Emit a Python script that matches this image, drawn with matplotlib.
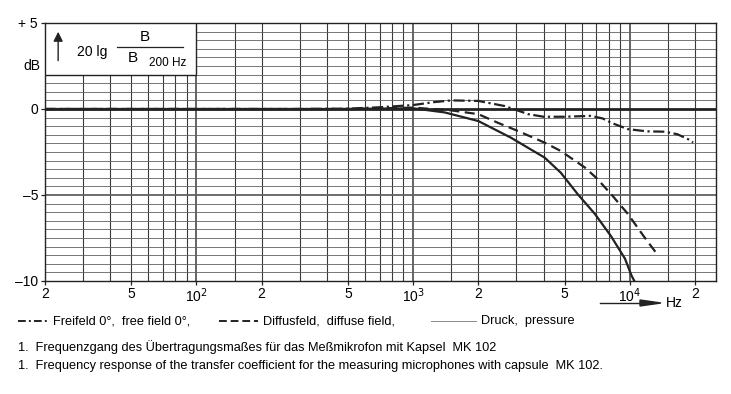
import numpy as np
import matplotlib.pyplot as plt
from matplotlib.lines import Line2D
from matplotlib.patches import Rectangle

plt.rcParams['font.family'] = ['Liberation Sans', 'DejaVu Sans']

# --- data (frequency in Hz, level in dB) ---
free_f = [20, 100, 300, 500, 700, 1000, 1250, 1500, 2000, 2650, 3400, 4000, 5000, 6600, 7500, 8200, 9800, 12000, 14600, 16600, 18900, 19600]
free_db = [0, 0, 0, 0.02, 0.1, 0.23, 0.4, 0.5, 0.47, 0.17, -0.3, -0.45, -0.45, -0.4, -0.55, -0.8, -1.17, -1.3, -1.32, -1.47, -1.8, -1.95]

diff_f = [20, 500, 800, 1000, 1500, 2000, 2460, 3050, 4050, 4800, 6200, 7000, 8200, 9800, 11600, 13300]
diff_db = [0, 0, 0.05, 0.08, -0.08, -0.3, -0.8, -1.28, -1.96, -2.44, -3.4, -4.0, -4.95, -6.1, -7.4, -8.4]

press_f = [20, 500, 800, 1000, 1400, 2000, 2830, 4050, 4800, 5750, 6900, 8200, 9500, 10200, 10500]
press_db = [0, 0, 0.03, 0.04, -0.2, -0.7, -1.67, -2.83, -3.7, -4.95, -6.1, -7.4, -8.7, -9.7, -10.0]

xtick_pos = [20, 50, 100, 200, 500, 1000, 2000, 5000, 10000, 20000]
xtick_lab = ['2', '5', '10$^2$', '2', '5', '10$^3$', '2', '5', '10$^4$', '2']

legend_labels = ['Freifeld 0°,  free field 0°,', 'Diffusfeld,  diffuse field,', 'Druck,  pressure']
caption_de = '1.  Frequenzgang des Übertragungsmaßes für das Meßmikrofon mit Kapsel  MK 102'
caption_en = '1.  Frequency response of the transfer coefficient for the measuring microphones with capsule  MK 102.'

W, H = 731, 394
fig = plt.figure(figsize=(W / 100, H / 100), dpi=100)
ax = fig.add_axes([45 / W, 1 - 281 / H, (716 - 45) / W, (281 - 23) / H])
ax.set_xscale('log')
ax.set_xlim(20, 25000)
ax.set_ylim(-10, 5)

# graph-paper grid
for dec in [10, 100, 1000, 10000]:
    for k in [1, 1.5, 2, 3, 4, 5, 6, 7, 8, 9]:
        f = k * dec
        if 20 < f < 25000:
            lw = 1.1 if k == 1 else 0.8
            ax.axvline(f, color='#3a3a3a', lw=lw, zorder=1)
for y in np.arange(-10, 5.01, 0.5):
    lw = 0.6
    if y == -5:
        lw = 1.3
    ax.axhline(y, color='#606060', lw=lw, zorder=1)
ax.axhline(0, color='#222222', lw=2.0, zorder=2)

# white label box in the upper left corner
ax.add_patch(Rectangle((20, 2), 80, 3, facecolor='white', edgecolor='#222222', lw=1.0, zorder=3))
ax.annotate('', xy=(23, 4.65), xytext=(23, 2.65),
            arrowprops=dict(arrowstyle='-|>', color='#222222', lw=1.0, mutation_scale=14), zorder=4)
ax.text(33, 3.3, '20 lg', fontsize=10, ha='center', va='center', zorder=4)
ax.plot([43, 87], [3.6, 3.6], color='#222222', lw=0.9, zorder=4)
ax.text(57.5, 4.2, 'B', fontsize=11, ha='center', va='center', zorder=4)
ax.text(51, 2.95, 'B', fontsize=11, ha='center', va='center', zorder=4)
ax.text(74, 2.7, '200 Hz', fontsize=8.5, ha='center', va='center', zorder=4)

# curves
ax.plot(free_f, free_db, color='#222222', lw=1.6, ls=(0, (5, 1.6, 1, 1.6)), zorder=5)
ax.plot(diff_f, diff_db, color='#222222', lw=1.6, ls=(0, (4.5, 2.5)), zorder=5)
ax.plot(press_f, press_db, color='#222222', lw=1.6, zorder=5)

for s in ax.spines.values():
    s.set_color('#222222')
    s.set_linewidth(1.0)

ax.set_xticks(xtick_pos)
ax.set_xticklabels(xtick_lab)
ax.xaxis.set_minor_locator(plt.NullLocator())
ax.set_yticks([5, 0, -5, -10])
ax.set_yticklabels(['+ 5', '0', '–5', '–10'])
ax.tick_params(axis='both', length=3, width=0.9, color='#222222', labelsize=10, pad=2)
ax.tick_params(axis='x', pad=1)
fig.text(40 / W, 1 - 66 / H, 'dB', fontsize=10, ha='right', va='center')

# frequency arrow
fig.add_artist(Line2D([600 / W, 642 / W], [1 - 303 / H] * 2, color='#222222', lw=1.0))
fig.patches.append(plt.Polygon([[640 / W, 1 - 300 / H], [661 / W, 1 - 303 / H], [640 / W, 1 - 306 / H]],
                               closed=True, color='#222222', transform=fig.transFigure, figure=fig))
fig.text(666 / W, 1 - 303 / H, 'Hz', fontsize=10, ha='left', va='center')

# legend row
fs = 9.2
ly = 1 - 321 / H
fig.add_artist(Line2D([18 / W, 48 / W], [ly, ly], color='#222222', lw=1.4, ls=(0, (4, 1.6, 1, 1.6))))
fig.text(53 / W, ly, legend_labels[0], fontsize=fs, ha='left', va='center')
fig.add_artist(Line2D([219 / W, 258 / W], [ly, ly], color='#222222', lw=1.4, ls=(0, (4, 2))))
fig.text(263 / W, ly, legend_labels[1], fontsize=fs, ha='left', va='center')
fig.add_artist(Line2D([431 / W, 476 / W], [ly, ly], color='#888888', lw=0.7))
fig.text(481 / W, ly, legend_labels[2], fontsize=fs, ha='left', va='center')

fig.text(18 / W, 1 - 347 / H, caption_de, fontsize=fs, ha='left', va='center')
fig.text(18 / W, 1 - 366 / H, caption_en, fontsize=fs, ha='left', va='center')

fig.savefig('out.png', dpi=100, facecolor='white')
